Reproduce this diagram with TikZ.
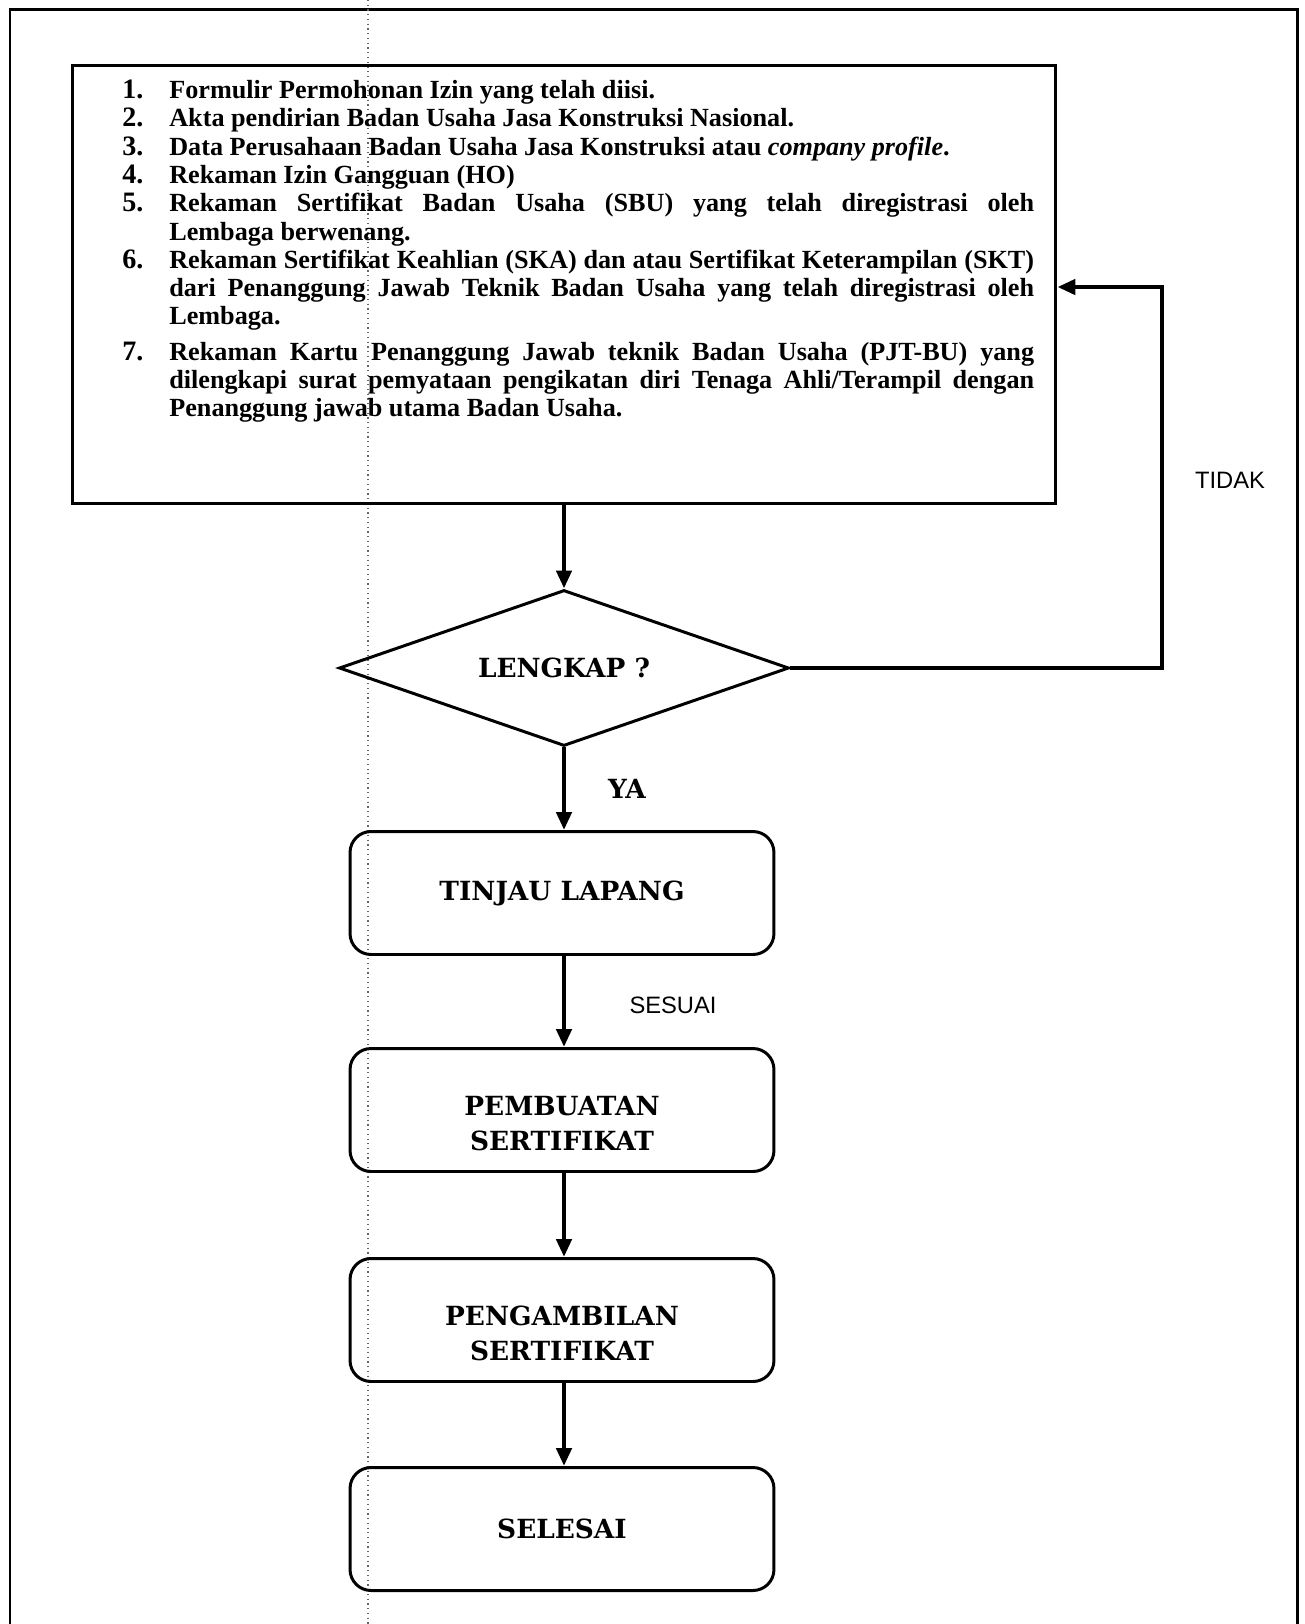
\documentclass[tikz,border=0pt]{standalone}
\usepackage{fontspec}
\usepackage{tikz}
\usetikzlibrary{arrows.meta,shapes.geometric}
\setmainfont{Liberation Serif}
\newfontfamily\stepfont{DejaVu Serif}
\newfontfamily\notefont{Liberation Sans}
\newcommand{\reqitem}[2]{\par\hangindent=0.94cm\hangafter=1\noindent
  \makebox[0.94cm][l]{\fontsize{16}{16}\selectfont#1}#2}

\begin{document}
\begin{tikzpicture}[x=0.02cm,y=-0.02cm,
  stepbox/.style={draw,line width=1.7pt,rounded corners=0.42cm,
    minimum width=8.48cm,minimum height=2.46cm,align=center,
    font=\stepfont\bfseries\fontsize{15}{20}\selectfont},
  flow/.style={line width=2.8pt,-{Triangle[length=0.36cm,width=0.3cm]}},
  note/.style={font=\notefont\fontsize{13.5}{16}\selectfont}]
  \useasboundingbox (0,0) rectangle (1305,1624);
  % frame and scan fold
  \draw[line width=1.7pt] (10,1624) |- (1297,9) -- (1297,1624);
  \draw[black!60,dotted,line width=0.7pt] (368,0) -- (368,1624);
  % requirements
  \node[draw,line width=1.7pt,minimum width=19.68cm,minimum height=8.78cm]
    (req) at (564,284.5) {};
  \node[anchor=north west,inner sep=0pt,text width=18.24cm,align=justify,
    font=\bfseries\fontsize{14.9}{16.1}\selectfont] (reqtext) at (122,70) {%
    \spaceskip=0.25em plus 0.6em minus 0.12em
    \emergencystretch=2em
    \reqitem{1.}{Formulir Permohonan Izin yang telah diisi.}
    \reqitem{2.}{Akta pendirian Badan Usaha Jasa Konstruksi Nasional.}
    \reqitem{3.}{Data Perusahaan Badan Usaha Jasa Konstruksi atau \textit{company profile}.}
    \reqitem{4.}{Rekaman Izin Gangguan (HO)}
    \reqitem{5.}{Rekaman Sertifikat Badan Usaha (SBU) yang telah diregistrasi oleh\linebreak
      Lembaga berwenang.}
    \reqitem{6.}{Rekaman Sertifikat Keahlian (SKA) dan atau Sertifikat Keterampilan (SKT)\linebreak
      dari Penanggung Jawab Teknik Badan Usaha yang telah diregistrasi oleh\linebreak
      Lembaga.}\par\vspace{4pt}
    \reqitem{7.}{Rekaman Kartu Penanggung Jawab teknik Badan Usaha (PJT-BU) yang\linebreak
      dilengkapi surat pemyataan pengikatan diri Tenaga Ahli/Terampil dengan\linebreak
      Penanggung jawab utama Badan Usaha.}\par};
  % steps
  \node[draw,diamond,aspect=2.88,line width=1.7pt,minimum width=9cm,minimum height=3.12cm,
    inner sep=0pt,font=\stepfont\bfseries\fontsize{15}{20}\selectfont]
    (chk) at (564,668) {LENGKAP ?};
  \node[stepbox] (survey) at (562,893) {TINJAU LAPANG};
  \node[stepbox] (make) at (562,1110) {\rule{0pt}{26pt}PEMBUATAN\\SERTIFIKAT};
  \node[stepbox] (pick) at (562,1320) {\rule{0pt}{26pt}PENGAMBILAN\\SERTIFIKAT};
  \node[stepbox] (done) at (562,1529) {SELESAI};
  \coordinate (back) at (1162,287);
  % connectors
  \draw[flow] (req.south -| chk.north) -- (chk.north);
  \draw[flow] (chk.south) -- (survey.north -| chk.south);
  \draw[flow] (survey.south -| chk.south) -- (make.north -| chk.south);
  \draw[flow] (make.south -| chk.south) -- (pick.north -| chk.south);
  \draw[flow] (pick.south -| chk.south) -- (done.north -| chk.south);
  \draw[flow] (chk.east) -| (back) -- (req.east |- back);
  % labels
  \node[font=\stepfont\bfseries\fontsize{15}{20}\selectfont] (ya) at (627,789) {YA};
  \node[note] (ok) at (673,1005) {SESUAI};
  \node[note] (no) at (1230,480) {TIDAK};
\end{tikzpicture}
\end{document}
